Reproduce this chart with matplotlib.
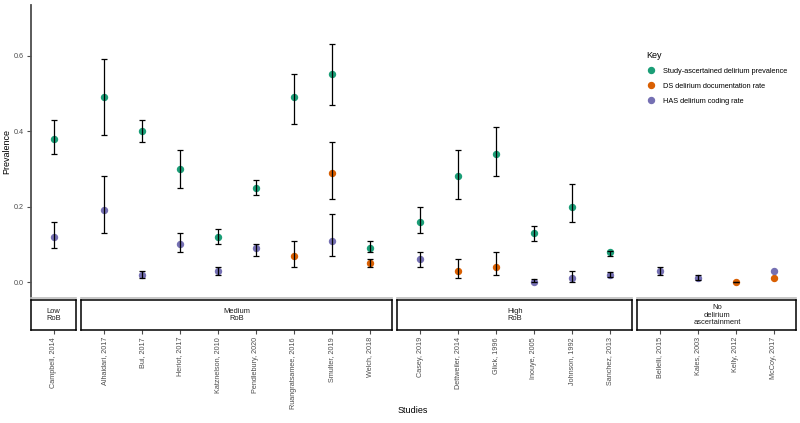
import numpy as np
import matplotlib
matplotlib.use("Agg")
import matplotlib.pyplot as plt
from matplotlib.lines import Line2D

plt.rcParams["font.family"] = ["Liberation Sans", "DejaVu Sans"]

nan = np.nan

# ---- data ----
studies = ["Campbell, 2014",
           "Alhaidari, 2017", "Bui, 2017", "Heriot, 2017", "Katznelson, 2010",
           "Pendlebury, 2020", "Ruangratsamee, 2016", "Smulter, 2019", "Welch, 2018",
           "Casey, 2019", "Dettweiler, 2014", "Glick, 1996", "Inouye, 2005",
           "Johnson, 1992", "Sanchez, 2013",
           "Bellelli, 2015", "Kales, 2003", "Kelly, 2012", "McCoy, 2017"]
groups = ["Low\nRoB", "Medium\nRoB", "High\nRoB", "No\ndelirium\nascertainment"]
group_sizes = [1, 8, 6, 4]

study_prev = [0.38, 0.49, 0.40, 0.30, 0.12, 0.25, 0.49, 0.55, 0.09,
              0.16, 0.28, 0.34, 0.13, 0.20, 0.08, nan, nan, nan, nan]
study_lo = [0.34, 0.39, 0.37, 0.25, 0.10, 0.23, 0.42, 0.47, 0.08,
            0.13, 0.22, 0.28, 0.11, 0.16, 0.07, nan, nan, nan, nan]
study_hi = [0.43, 0.59, 0.43, 0.35, 0.14, 0.27, 0.55, 0.63, 0.11,
            0.20, 0.35, 0.41, 0.15, 0.26, 0.083, nan, nan, nan, nan]

ds_rate = [nan, nan, nan, nan, nan, nan, 0.07, 0.29, 0.05,
           nan, 0.03, 0.04, nan, nan, nan, nan, nan, 0.0, 0.01]
ds_lo = [nan, nan, nan, nan, nan, nan, 0.04, 0.22, 0.04,
         nan, 0.01, 0.02, nan, nan, nan, nan, nan, 0.0, nan]
ds_hi = [nan, nan, nan, nan, nan, nan, 0.11, 0.37, 0.06,
         nan, 0.06, 0.08, nan, nan, nan, nan, nan, 0.0, nan]

has_rate = [0.12, 0.19, 0.02, 0.10, 0.03, 0.09, nan, 0.11, nan,
            0.06, nan, nan, 0.0, 0.01, 0.02, 0.03, 0.01, nan, 0.03]
has_lo = [0.09, 0.13, 0.01, 0.08, 0.02, 0.07, nan, 0.07, nan,
          0.04, nan, nan, 0.0, 0.0, 0.014, 0.02, 0.005, nan, nan]
has_hi = [0.16, 0.28, 0.03, 0.13, 0.04, 0.10, nan, 0.18, nan,
          0.08, nan, nan, 0.008, 0.03, 0.028, 0.04, 0.02, nan, nan]

series = [
    ("Study-ascertained delirium prevalence", "#1B9E77", study_prev, study_lo, study_hi),
    ("DS delirium documentation rate", "#D95F02", ds_rate, ds_lo, ds_hi),
    ("HAS delirium coding rate", "#7570B3", has_rate, has_lo, has_hi),
]

# ---- layout (pixel based, 800x423) ----
W, H = 800, 423
fig = plt.figure(figsize=(W / 100, H / 100), dpi=100)

step = 37.9
gap = 5
left = 31
panel_top, panel_bot = 5, 298
strip_top, strip_bot = 300, 330
ylim = (-0.042, 0.734)

axis_grey = "#4d4d4d"
tick_fs = 5.2
x0 = left
start = 0
for gi, (gname, n) in enumerate(zip(groups, group_sizes)):
    width = (n - 1 + 1.2) * step
    idx = list(range(start, start + n))
    start += n

    ax = fig.add_axes([x0 / W, 1 - panel_bot / H, width / W, (panel_bot - panel_top) / H])
    ax.set_xlim(-0.6, n - 1 + 0.6)
    ax.set_ylim(*ylim)
    for s in ["top", "right"]:
        ax.spines[s].set_visible(False)
    ax.spines["bottom"].set_color("#bdbdbd")
    ax.spines["bottom"].set_linewidth(1.2)
    ax.set_xticks([])
    if gi == 0:
        ax.spines["left"].set_color(axis_grey)
        ax.spines["left"].set_linewidth(1.3)
        ax.set_yticks([0.0, 0.2, 0.4, 0.6])
        ax.set_yticklabels(["0.0", "0.2", "0.4", "0.6"])
        ax.tick_params(axis="y", labelsize=tick_fs, colors=axis_grey, length=3, width=0.8, pad=2)
        ax.set_ylabel("Prevalence", fontsize=6.5, labelpad=2)
    else:
        ax.spines["left"].set_visible(False)
        ax.set_yticks([])

    xs = np.arange(n)
    for label, color, val, lo, hi in series:
        v = np.array(val)[idx]
        l = np.array(lo)[idx]
        h = np.array(hi)[idx]
        ax.plot(xs, v, "o", color=color, markersize=4.3, zorder=2, linestyle="none")
        ok = ~np.isnan(l)
        if ok.any():
            ax.errorbar(xs[ok], v[ok], yerr=[v[ok] - l[ok], h[ok] - v[ok]],
                        fmt="none", ecolor="black", elinewidth=0.9,
                        capsize=2.2, capthick=0.9, zorder=3)

    # strip below panel
    sax = fig.add_axes([x0 / W, 1 - strip_bot / H, width / W, (strip_bot - strip_top) / H])
    sax.set_xlim(-0.6, n - 1 + 0.6)
    sax.set_ylim(0, 1)
    sax.set_yticks([])
    for s in sax.spines.values():
        s.set_color("black")
        s.set_linewidth(1.1)
    sax.text(0.5, 0.5, gname, transform=sax.transAxes, ha="center", va="center",
             fontsize=5.4, linespacing=1.05, color="#1a1a1a")
    sax.set_xticks(xs)
    sax.set_xticklabels([studies[i] for i in idx], rotation=90)
    sax.tick_params(axis="x", labelsize=tick_fs, colors=axis_grey, length=3, width=0.8, pad=2)

    x0 += width + gap

fig.text(413 / W, 1 - 410 / H, "Studies", ha="center", va="center", fontsize=6.5)

handles = [Line2D([], [], marker="o", color=c, linestyle="none", markersize=4.3)
           for _, c, *_ in series]
labels = [s[0] for s in series]
leg = fig.legend(handles, labels, title="Key", loc="upper left",
                 bbox_to_anchor=(640 / W, 1 - 45 / H), frameon=False,
                 fontsize=5.3, title_fontsize=6.5, handletextpad=0.9,
                 labelspacing=1.05, handlelength=1.4, borderpad=0.3)
leg._legend_box.align = "left"

fig.savefig("out.png", dpi=100)
